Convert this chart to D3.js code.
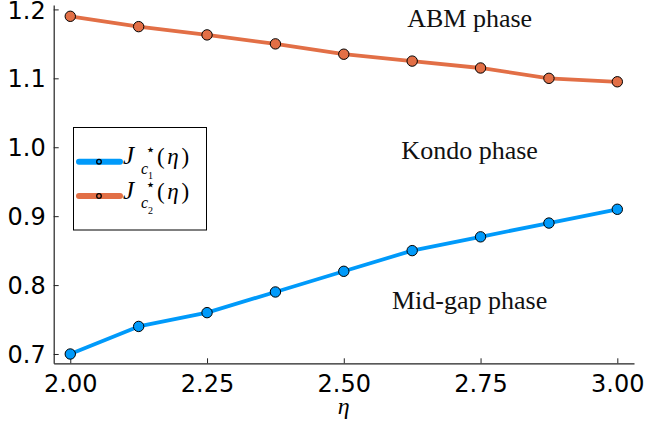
<!DOCTYPE html>
<html>
<head>
<meta charset="utf-8">
<script src="https://cdn.jsdelivr.net/npm/d3@7"></script>
<style>
html,body{margin:0;padding:0;background:#fff;}
svg{display:block;}
</style>
</head>
<body>
<svg id="chart" width="645" height="430"></svg>
<script>
const eta = [2.0, 2.125, 2.25, 2.375, 2.5, 2.625, 2.75, 2.875, 3.0];
const jc1 = [0.70, 0.74, 0.76, 0.79, 0.82, 0.85, 0.87, 0.89, 0.91];
const jc2 = [1.19, 1.175, 1.163, 1.15, 1.135, 1.125, 1.115, 1.10, 1.095];
const xTicks = [2.0, 2.25, 2.5, 2.75, 3.0];
const yTicks = [0.7, 0.8, 0.9, 1.0, 1.1, 1.2];
const annotations = [
  {text: "ABM phase", x: 2.73, y: 1.175},
  {text: "Kondo phase", x: 2.73, y: 0.983},
  {text: "Mid-gap phase", x: 2.73, y: 0.765}
];
const seriesColors = ["#009AFA", "#E26F46"];
const legendSubs = ["1", "2"];

const svg = d3.select("#chart");
const mLeft = 53.7, mRight = 634, mTop = 5, mBottom = 363.3;
const x = d3.scaleLinear().domain([1.9697, 3.0305]).range([mLeft, mRight]);
const y = d3.scaleLinear().domain([0.6865, 1.2064]).range([mBottom, mTop]);

// axes
const xAxis = d3.axisBottom(x).tickValues(xTicks).tickSizeInner(-5).tickSizeOuter(0)
  .tickPadding(12).tickFormat(d3.format(".2f"));
const gx = svg.append("g").attr("transform", `translate(0,${mBottom})`).call(xAxis);
const yAxis = d3.axisLeft(y).tickValues(yTicks).tickSizeInner(-5).tickSizeOuter(0)
  .tickPadding(8).tickFormat(d3.format(".1f"));
const gy = svg.append("g").attr("transform", `translate(${mLeft},0)`).call(yAxis);
[gx, gy].forEach(g => {
  g.select(".domain").attr("stroke", "#222").attr("stroke-width", 1.2);
  g.selectAll(".tick line").attr("stroke", "#222").attr("stroke-width", 1);
  g.selectAll(".tick text").attr("font-family", "DejaVu Sans").attr("font-size", 24).attr("fill", "#000");
});
gx.selectAll(".tick text").attr("dy", "0.71em").attr("y", 12);
gy.selectAll(".tick text").attr("dy", "0.36em");

// x label
svg.append("text").attr("x", x(2.5)).attr("y", 414).attr("text-anchor", "middle")
  .attr("font-family", "Liberation Serif").attr("font-style", "italic").attr("font-size", 24)
  .text("η");

// lines
const series = [jc1, jc2];
const line = d3.line().x((d, i) => x(eta[i])).y(d => y(d));
series.forEach((s, k) => {
  svg.append("path").datum(s).attr("d", line).attr("fill", "none")
    .attr("stroke", seriesColors[k]).attr("stroke-width", 3.8).attr("stroke-linejoin", "round");
  svg.append("g").selectAll("circle").data(s).join("circle")
    .attr("cx", (d, i) => x(eta[i])).attr("cy", d => y(d)).attr("r", 5.2)
    .attr("fill", seriesColors[k]).attr("stroke", "#000").attr("stroke-width", 1);
});

// annotations
svg.append("g").selectAll("text").data(annotations).join("text")
  .attr("x", d => x(d.x)).attr("y", d => y(d.y)).attr("text-anchor", "middle")
  .attr("font-family", "Liberation Serif").attr("font-size", 26).attr("fill", "#111")
  .text(d => d.text);

// legend
const lg = svg.append("g");
lg.append("rect").attr("x", 73.5).attr("y", 127.5).attr("width", 133).attr("height", 102.5)
  .attr("fill", "#fff").attr("stroke", "#000").attr("stroke-width", 1);
seriesColors.forEach((c, k) => {
  const ly = 161.7 + k * 34.3;
  lg.append("line").attr("x1", 79).attr("x2", 120).attr("y1", ly).attr("y2", ly)
    .attr("stroke", c).attr("stroke-width", 6).attr("stroke-linecap", "round");
  lg.append("circle").attr("cx", 99).attr("cy", ly).attr("r", 2.3)
    .attr("fill", c).attr("stroke", "#000").attr("stroke-width", 1.3);
  const b = ly + 2.5;
  const g = lg.append("g").attr("font-family", "Liberation Serif").attr("fill", "#000");
  g.append("text").attr("x", 123).attr("y", b).attr("font-size", 25).attr("font-style", "italic").text("J");
  g.append("text").attr("x", 145.5).attr("y", b - 9).attr("font-size", 16).attr("font-family", "DejaVu Sans").text("⋆");
  g.append("text").attr("x", 141).attr("y", b + 9.5).attr("font-size", 16).attr("font-style", "italic").text("c");
  g.append("text").attr("x", 148).attr("y", b + 15).attr("font-size", 10).text(legendSubs[k]);
  const t = g.append("text").attr("x", 157).attr("y", b).attr("font-size", 23);
  t.append("tspan").text("(");
  t.append("tspan").attr("font-style", "italic").attr("dx", 2.5).text("η");
  t.append("tspan").attr("dx", 3).text(")");
});
</script>
</body>
</html>
